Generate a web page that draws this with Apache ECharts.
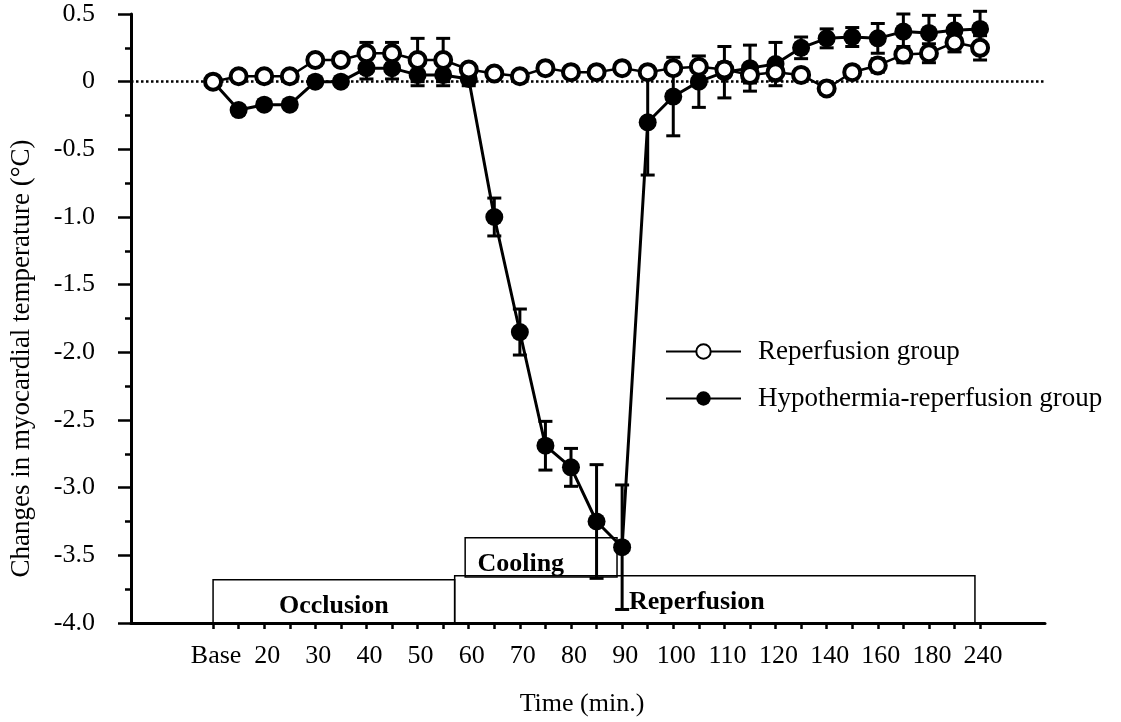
<!DOCTYPE html>
<html>
<head>
<meta charset="utf-8">
<title>Myocardial temperature</title>
<script src="https://cdn.jsdelivr.net/npm/echarts@6/dist/echarts.min.js"></script>
<style>
  html, body { margin: 0; padding: 0; background: #fff; }
  #chart { width: 1121px; height: 722px; }
</style>
</head>
<body>
<div id="chart"></div>
<script>
// sample positions along the time axis (one per tick)
const sampleIdx = [0, 1, 2, 3, 4, 5, 6, 7, 8, 9, 10, 11, 12, 13, 14, 15, 16, 17, 18, 19, 20, 21, 22, 23, 24, 25, 26, 27, 28, 29, 30]
// tick labels and the tick each one sits under
const tickLabels = ['Base', '20', '30', '40', '50', '60', '70', '80', '90', '100', '110', '120', '140', '160', '180', '240']
const labelPos = [0, 2, 4, 6, 8, 10, 12, 14, 16, 18, 20, 22, 24, 26, 28, 30]

const reperfusion = [0, 0.04, 0.04, 0.04, 0.16, 0.16, 0.21, 0.21, 0.16, 0.16,
  0.09, 0.06, 0.04, 0.10, 0.07, 0.07, 0.10, 0.07, 0.10, 0.11, 0.09,
  0.05, 0.07, 0.05, -0.05, 0.07, 0.12, 0.20, 0.21, 0.29, 0.25]
const reperfusionErr = [0, 0.02, 0.02, 0.02, 0.04, 0.04, 0.08, 0.08, 0.16, 0.16,
  0.03, 0.02, 0.02, 0.03, 0.02, 0.02, 0.03, 0.03, 0.04, 0.04, 0.05,
  0.06, 0.06, 0.04, 0.04, 0.04, 0.05, 0.06, 0.07, 0.07, 0.09]

const hypothermia = [0, -0.21, -0.17, -0.17, 0.0, 0.0, 0.10, 0.10, 0.05, 0.05, 0.02,
  -1.0, -1.85, -2.69, -2.85, -3.25, -3.44,
  -0.30, -0.11, 0.0, 0.07, 0.10, 0.13, 0.25, 0.32, 0.33, 0.32, 0.37, 0.36, 0.38, 0.39]
const hypothermiaErr = [0, 0.03, 0.03, 0.03, 0.03, 0.03, 0.08, 0.08, 0.08, 0.08, 0.05,
  0.14, 0.17, 0.18, 0.14, 0.42, 0.46,
  0.39, 0.29, 0.19, 0.19, 0.17, 0.16, 0.08, 0.07, 0.07, 0.11, 0.13, 0.13, 0.11, 0.13]

// protocol phases: [name, start, end, bottom, top]
const phases = [
  ['Occlusion', 0, 9.45, -4, -3.68],
  ['Reperfusion', 9.45, 29.8, -4, -3.65],
  ['Cooling', 9.86, 15.8, -3.66, -3.37]
]

const FONT = 'Liberation Serif'

function pairs(ys) {
  return sampleIdx.map((x, i) => [x, ys[i]])
}

function errData(ys, es) {
  return sampleIdx.map((x, i) => [x, ys[i], es[i]])
}

function renderErr(params, api) {
  const x = api.value(0)
  const y = api.value(1)
  const e = api.value(2)
  if (!e) return
  const hi = api.coord([x, y + e])
  const lo = api.coord([x, y - e])
  const w = 7
  const style = { stroke: '#000', lineWidth: 3 }
  return {
    type: 'group',
    children: [
      { type: 'line', shape: { x1: hi[0], y1: hi[1], x2: lo[0], y2: lo[1] }, style },
      { type: 'line', shape: { x1: hi[0] - w, y1: hi[1], x2: hi[0] + w, y2: hi[1] }, style },
      { type: 'line', shape: { x1: lo[0] - w, y1: lo[1], x2: lo[0] + w, y2: lo[1] }, style }
    ]
  }
}

const labelPlace = {
  Occlusion: { position: 'inside', offset: [0, 5] },
  Reperfusion: { position: 'insideLeft', distance: 175, offset: [0, 3] },
  Cooling: { position: 'insideLeft', distance: 13, offset: [0, 7] }
}

const chart = echarts.init(document.getElementById('chart'))
chart.setOption({
  animation: false,
  backgroundColor: '#fff',
  textStyle: { fontFamily: FONT, color: '#000' },
  grid: { left: 131, right: 76, top: 14, bottom: 97 },
  legend: {
    data: ['Reperfusion group', 'Hypothermia-reperfusion group'],
    orient: 'vertical',
    left: 660,
    top: 333,
    itemWidth: 75,
    itemHeight: 18,
    itemGap: 20,
    textStyle: { fontFamily: FONT, fontSize: 27, color: '#000', padding: [0, 0, 0, 12] }
  },
  xAxis: {
    type: 'value',
    min: -3.21,
    max: 32.54,
    name: 'Time (min.)',
    nameLocation: 'middle',
    nameGap: 68,
    nameTextStyle: { fontFamily: FONT, fontSize: 26, color: '#000', padding: [0, 12, 0, 0] },
    splitLine: { show: false },
    axisLine: { onZero: false, lineStyle: { color: '#000', width: 3 } },
    axisTick: { customValues: sampleIdx, length: 6, lineStyle: { color: '#000', width: 2.5 } },
    axisLabel: {
      customValues: labelPos,
      showMinLabel: true,
      showMaxLabel: true,
      margin: 20,
      padding: [0, 0, 0, 6],
      fontFamily: FONT,
      fontSize: 26,
      color: '#000',
      formatter: v => {
        let best = 0
        labelPos.forEach((p, i) => {
          if (Math.abs(p - v) < Math.abs(labelPos[best] - v)) best = i
        })
        return tickLabels[best]
      }
    }
  },
  yAxis: {
    type: 'value',
    min: -4,
    max: 0.5,
    interval: 0.5,
    name: 'Changes in myocardial temperature (°C)',
    nameLocation: 'middle',
    nameGap: 96,
    nameRotate: 90,
    nameTextStyle: { fontFamily: FONT, fontSize: 27, color: '#000', padding: [0, 80, 0, 0] },
    splitLine: { show: false },
    axisLine: { show: true, onZero: false, lineStyle: { color: '#000', width: 3 } },
    axisTick: { show: true, length: 13, lineStyle: { color: '#000', width: 2.5 } },
    minorTick: { show: true, splitNumber: 2, length: 6, lineStyle: { color: '#000', width: 2.5 } },
    axisLabel: {
      margin: 36,
      fontFamily: FONT,
      fontSize: 26,
      color: '#000',
      formatter: v => (v === 0 ? '0' : v.toFixed(1))
    }
  },
  series: [
    {
      type: 'line',
      name: 'phases',
      data: [],
      silent: true,
      z: 1,
      markArea: {
        silent: true,
        itemStyle: { color: 'rgba(255,255,255,0)', borderColor: '#000', borderWidth: 1.5 },
        label: { fontFamily: FONT, fontSize: 26, fontWeight: 'bold', color: '#000' },
        data: phases.map(p => [
          { name: p[0], xAxis: p[1], yAxis: p[3], label: labelPlace[p[0]] },
          { xAxis: p[2], yAxis: p[4] }
        ])
      },
      markLine: {
        silent: true,
        symbol: 'none',
        label: { show: false },
        lineStyle: { color: '#000', type: 'dotted', width: 2.5 },
        data: [{ yAxis: 0 }]
      }
    },
    {
      type: 'custom',
      name: 'hypoErr',
      renderItem: renderErr,
      data: errData(hypothermia, hypothermiaErr),
      z: 3
    },
    {
      type: 'custom',
      name: 'reperErr',
      renderItem: renderErr,
      data: errData(reperfusion, reperfusionErr),
      z: 3
    },
    {
      type: 'line',
      name: 'Hypothermia-reperfusion group',
      data: pairs(hypothermia),
      symbol: 'circle',
      symbolSize: 18,
      lineStyle: { color: '#000', width: 3 },
      itemStyle: { color: '#000' },
      z: 4
    },
    {
      type: 'line',
      name: 'Reperfusion group',
      data: pairs(reperfusion),
      symbol: 'circle',
      symbolSize: 16,
      lineStyle: { color: '#000', width: 2.5 },
      itemStyle: { color: '#fff', borderColor: '#000', borderWidth: 4 },
      z: 5
    }
  ]
})
</script>
</body>
</html>
